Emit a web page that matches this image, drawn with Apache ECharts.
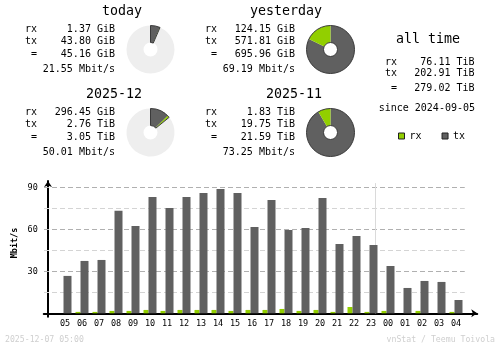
<!DOCTYPE html>
<html>
<head>
<meta charset="utf-8">
<script src="https://cdn.jsdelivr.net/npm/echarts@6/dist/echarts.min.js"></script>
<style>
  html, body { margin: 0; padding: 0; background: #ffffff; }
  #chart { width: 500px; height: 348px; }
</style>
</head>
<body>
<div id="chart"></div>
<script>
// ---- hourly traffic, average rate per hour (Mbit/s) ----
const hours = ['05','06','07','08','09','10','11','12','13','14','15','16',
               '17','18','19','20','21','22','23','00','01','02','03','04'];
const rxRate = [0, 1.0, 1.0, 1.7, 1.7, 2.4, 1.7, 2.4, 2.4, 2.4, 1.7, 2.4,
                2.4, 3.1, 1.7, 2.4, 1.0, 4.5, 1.0, 1.7, 0, 1.7, 0, 1.0];
const txRate = [26.7, 37.4, 38.1, 73.3, 62.4, 83.1, 75.2, 83.1, 86.0, 88.8, 86.0, 61.7,
                81.0, 59.5, 61.0, 82.4, 49.5, 55.2, 48.8, 33.8, 18.1, 23.1, 22.4, 9.5];
const yLabelValues = [30, 60, 90];
const gridMajor = [30, 60, 90];
const gridMinor = [15, 45, 75];

// ---- period summaries ----
const periodNames = ['today', 'yesterday', '2025-12', '2025-11'];
const rxAmount    = [1.37, 124.15, 296.45, 1.83];
const rxUnit      = ['GiB', 'GiB', 'GiB', 'TiB'];
const txAmount    = [43.80, 571.81, 2.76, 19.75];
const txUnit      = ['GiB', 'GiB', 'TiB', 'TiB'];
const totalAmount = [45.16, 695.96, 3.05, 21.59];
const totalUnit   = ['GiB', 'GiB', 'TiB', 'TiB'];
const avgRate     = [21.55, 69.19, 50.01, 73.25];
// the running period is drawn relative to the one before it
const comparedWith = [1, null, 3, null];

// ---- all time ----
const allTimeLabels = ['rx', 'tx', ' ='];
const allTimeValues = ['76.11 TiB', '202.91 TiB', '279.02 TiB'];
const sinceDate = '2024-09-05';

const stampText = '2025-12-07 05:00';
const creditText = 'vnStat / Teemu Toivola';

// ---- styling ----
const MONO = "'DejaVu Sans Mono', 'Liberation Mono', monospace";
const RX_COLOR = '#92cf00';
const TX_COLOR = '#606060';
const EMPTY_COLOR = '#eeeeee';
const EDGE_COLOR = '#3a3a3a';

const toGiB = (v, u) => (u === 'TiB' ? v * 1024 : v);
const fmt = (v, u) => v.toFixed(2) + ' ' + u;

function txt(x, y, text, opts) {
  opts = opts || {};
  return {
    type: 'text', x: x, y: y, silent: true,
    rotation: opts.rotation || 0,
    style: {
      text: text,
      font: opts.font || ('10px ' + MONO),
      fill: opts.fill || '#000000',
      textAlign: opts.align || 'left',
      textVerticalAlign: 'middle'
    }
  };
}

const graphics = [];
const pieSeries = [];
const blockDX = [0, 180, 0, 180];
const blockDY = [0, 0, 83, 83];

periodNames.forEach((name, i) => {
  const dx = blockDX[i], dy = blockDY[i];
  graphics.push(txt(142 + dx, 12 + dy, name, { font: '13.3px ' + MONO, align: 'right' }));
  graphics.push(txt(25 + dx, 29.5 + dy, 'rx'));
  graphics.push(txt(25 + dx, 41.8 + dy, 'tx'));
  graphics.push(txt(25 + dx, 54.1 + dy, ' ='));
  graphics.push(txt(115 + dx, 29.5 + dy, fmt(rxAmount[i], rxUnit[i]), { align: 'right' }));
  graphics.push(txt(115 + dx, 41.8 + dy, fmt(txAmount[i], txUnit[i]), { align: 'right' }));
  graphics.push(txt(115 + dx, 54.1 + dy, fmt(totalAmount[i], totalUnit[i]), { align: 'right' }));
  graphics.push(txt(115 + dx, 69.3 + dy, avgRate[i].toFixed(2) + ' Mbit/s', { align: 'right' }));

  const rx = toGiB(rxAmount[i], rxUnit[i]);
  const tx = toGiB(txAmount[i], txUnit[i]);
  const total = toGiB(totalAmount[i], totalUnit[i]);
  const ref = comparedWith[i] === null ? total
    : Math.max(total, toGiB(totalAmount[comparedWith[i]], totalUnit[comparedWith[i]]));
  const rest = Math.max(ref - total, 0);
  const center = [150.5 + dx, 49.5 + dy];
  const common = {
    type: 'pie', center: center, radius: [7, 24], startAngle: 90, clockwise: true,
    silent: true, label: { show: false }, labelLine: { show: false },
    emphasis: { disabled: true }, animation: false
  };
  pieSeries.push(Object.assign({}, common, {
    z: 3,
    data: [
      { value: tx, itemStyle: { color: TX_COLOR, borderWidth: 0 } },
      { value: rx, itemStyle: { color: RX_COLOR, borderWidth: 0 } },
      { value: rest, itemStyle: { color: EMPTY_COLOR, borderWidth: 0 } }
    ]
  }));
  pieSeries.push(Object.assign({}, common, {
    z: 4,
    data: [
      { value: rx + tx, itemStyle: { color: 'rgba(0,0,0,0)', borderColor: EDGE_COLOR, borderWidth: 1 } },
      { value: rest, itemStyle: { color: 'rgba(0,0,0,0)', borderWidth: 0 } }
    ]
  }));
});

// all time block
graphics.push(txt(428, 39.5, 'all time', { font: '13.3px ' + MONO, align: 'center' }));
const allTimeY = [62, 73, 88];
allTimeLabels.forEach((lab, i) => {
  graphics.push(txt(385, allTimeY[i], lab));
  graphics.push(txt(474.5, allTimeY[i], allTimeValues[i], { align: 'right' }));
});
graphics.push(txt(475, 108.3, 'since ' + sinceDate, { align: 'right' }));

// axis title and footer
graphics.push(txt(14.5, 243, 'Mbit/s', { font: 'bold 8.5px ' + MONO, align: 'center', rotation: Math.PI / 2 }));
graphics.push(txt(5, 340, stampText, { font: '8.2px ' + MONO, fill: '#cfcfcf' }));
graphics.push(txt(495, 340, creditText, { font: '8.2px ' + MONO, fill: '#cfcfcf', align: 'right' }));

// x positions: hour i sits at i + 1, the y axis sits at 0
const xPos = hours.map((h, i) => i + 1);
const xEnd = 24.75;
const midnight = hours.indexOf('00') + 1 - 0.5;

const gridLines = []
  .concat(gridMinor.map(v => [
    { coord: [0, v], lineStyle: { color: '#d4d4d4', type: [5, 3], width: 1 } },
    { coord: [xEnd, v] }
  ]))
  .concat(gridMajor.map(v => [
    { coord: [0, v], lineStyle: { color: '#b0b0b0', type: [5, 3], width: 1 } },
    { coord: [xEnd, v] }
  ]))
  .concat([[
    { coord: [midnight, 0], lineStyle: { color: '#dadada', type: 'solid', width: 1 } },
    { coord: [midnight, 93] }
  ]]);

const chart = echarts.init(document.getElementById('chart'), null, { renderer: 'canvas' });
chart.setOption({
  animation: false,
  backgroundColor: '#ffffff',
  grid: { left: 43.75, top: 181, width: 433.5, height: 135.66, containLabel: false },
  legend: {
    data: ['rx', 'tx'],
    left: 398, top: 131, padding: 0,
    icon: 'rect', itemWidth: 6, itemHeight: 6, itemGap: 20,
    itemStyle: { borderColor: '#202020', borderWidth: 1 },
    textStyle: { fontFamily: MONO, fontSize: 10, color: '#000000' },
    selectedMode: false
  },
  xAxis: {
    type: 'value', min: -0.25, max: 25.25,
    axisLine: { show: true, onZero: true, lineStyle: { color: '#000000', width: 2 },
                symbol: ['none', 'arrow'], symbolSize: [6, 6] },
    axisTick: { show: false },
    splitLine: { show: false },
    axisLabel: {
      customValues: xPos,
      formatter: v => hours[Math.round(v) - 1] || '',
      fontFamily: MONO, fontSize: 8.5, color: '#000000', margin: 3
    }
  },
  yAxis: {
    type: 'value', min: -2.4, max: 94.5,
    axisLine: { show: true, onZero: true, lineStyle: { color: '#000000', width: 2 },
                symbol: ['none', 'arrow'], symbolSize: [6, 6] },
    axisTick: { show: false },
    splitLine: { show: false },
    axisLabel: {
      customValues: yLabelValues,
      fontFamily: MONO, fontSize: 8.5, color: '#000000', margin: 6
    }
  },
  series: [
    {
      name: 'rx', type: 'bar', barWidth: 5, barGap: '0%', z: 2,
      itemStyle: { color: RX_COLOR },
      data: xPos.map((x, i) => [x, rxRate[i]]),
      markLine: { z: 1, silent: true, symbol: 'none', label: { show: false },
                  emphasis: { disabled: true }, data: gridLines, animation: false }
    },
    {
      name: 'tx', type: 'bar', barWidth: 8, barGap: '0%', z: 2,
      itemStyle: { color: TX_COLOR },
      data: xPos.map((x, i) => [x, txRate[i]])
    }
  ].concat(pieSeries),
  graphic: { elements: graphics }
});
</script>
</body>
</html>
